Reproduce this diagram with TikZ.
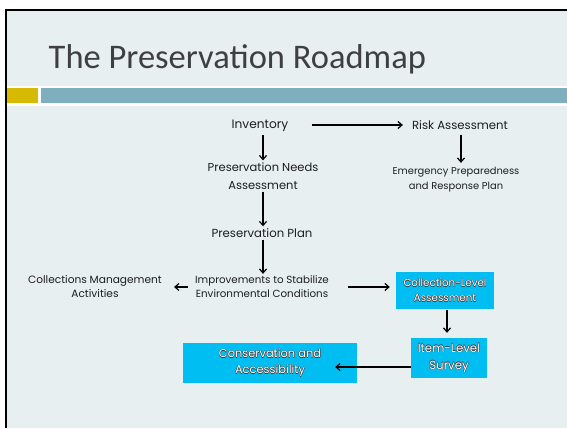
\documentclass[tikz,border=0pt]{standalone}
\usepackage{fontspec}
\setmainfont{Poppins}
\newfontfamily\titlefont{Carlito}
\usetikzlibrary{arrows.meta}

\definecolor{slidebg}{HTML}{E7EFF1}
\definecolor{goldbar}{HTML}{D6B900}
\definecolor{tealbar}{HTML}{7FAFBF}
\definecolor{boxcyan}{HTML}{00BEF2}
\definecolor{titlegray}{HTML}{3F3F3F}
\definecolor{inkgray}{HTML}{1E1E1E}
\definecolor{edgegray}{HTML}{3A3A3A}

% white lettering with a thin dark rim, one line at a time
\newcommand\rimtext[1]{%
  \makebox[0pt][l]{\color{edgegray}\kern-.45pt#1}%
  \makebox[0pt][l]{\color{edgegray}\kern.45pt#1}%
  \makebox[0pt][l]{\color{edgegray}\raisebox{.45pt}{#1}}%
  \makebox[0pt][l]{\color{edgegray}\raisebox{-.45pt}{#1}}%
  {\color{white}#1}}

\newcommand\fs[2]{\fontsize{#1}{#2}\selectfont}

\tikzset{
  label/.style={text=inkgray, align=center, inner sep=2pt},
  cyanbox/.style={fill=boxcyan, align=center, inner sep=0pt},
  arr/.style={line width=1.3pt, draw=black, -{Straight Barb[length=4pt,width=7pt,line width=1.2pt]}},
}

\begin{document}
\begin{tikzpicture}[x=1pt, y={(0,-1pt)}]
\useasboundingbox (0,0) rectangle (567,428);

% slide frame and header bars
\fill[white] (0,0) rectangle (567,428);
\fill[slidebg] (5,9) rectangle (567,428);
\fill[black] (5,9) rectangle (567,11);
\fill[black] (5,9) rectangle (6.7,428);
\fill[white] (6.7,86) rectangle (567,106);
\fill[goldbar] (6.7,88) rectangle (38,103);
\fill[tealbar] (41,88) rectangle (567,103);

\node[anchor=base west, inner sep=0pt, text=titlegray, font=\titlefont\fs{34.5}{38}]
  (title) at (48.5,68) {The Preservation Roadmap};

% text steps
\node[label, font=\fs{12.2}{18}] (inv)   at (260,126) {Inventory};
\node[label, font=\fs{11.7}{18}] (risk)  at (460,125) {Risk Assessment};
\node[label, font=\fs{9.9}{15}]  (emerg) at (456,179.5) {Emergency Preparedness\\and Response Plan};
\node[label, font=\fs{11.5}{18}] (pna)   at (263,176) {Preservation Needs\\Assessment};
\node[label, font=\fs{11.7}{18}] (pplan) at (262,233) {Preservation Plan};
\node[label, font=\fs{10.3}{14}] (impr)  at (262,287) {Improvements to Stabilize\\Environmental Conditions};
\node[label, font=\fs{10.6}{14}] (cma)   at (95,287) {Collections Management\\Activities};

% highlighted steps
\node[cyanbox, minimum width=98pt, minimum height=37pt, font=\fs{10.3}{15}] (cla) at (445,290.5)
  {\rimtext{Collection-Level}\\\rimtext{Assessment}};
\node[cyanbox, minimum width=76pt, minimum height=40pt, font=\fs{11.8}{17}] (ils) at (449,358)
  {\rimtext{Item-Level}\\\rimtext{Survey}};
\node[cyanbox, minimum width=174pt, minimum height=40pt, font=\fs{11.4}{16}] (cons) at (270,363)
  {\rimtext{Conservation and}\\\rimtext{Accessibility}};

% connectors
\draw[arr, shorten <=21pt, shorten >=7pt] (inv.east |- risk.west) -- (risk.west);
\draw[arr, shorten <=3pt, shorten >=2pt] (risk.south -| 461,0) -- (emerg.north -| 461,0);
\draw[arr, shorten <=1pt] (pna.north |- inv.south) -- (pna.north);
\draw[arr] (pna.south) -- (pna.south |- pplan.north);
\draw[arr] (pna.south |- pplan.south) -- (pna.south |- impr.north);
\draw[arr, shorten <=5pt, shorten >=10pt] (impr.west) -- (impr.west -| cma.east);
\draw[arr, shorten <=17pt, shorten >=6pt] (impr.east) -- (impr.east -| cla.west);
\draw[arr, shorten <=1pt, shorten >=5pt] (cla.south -| 447,0) -- (ils.north -| 447,0);
\draw[arr, shorten >=-22pt] ([yshift=-9pt]ils.west) -- ([yshift=-4pt]cons.east);
\end{tikzpicture}
\end{document}
